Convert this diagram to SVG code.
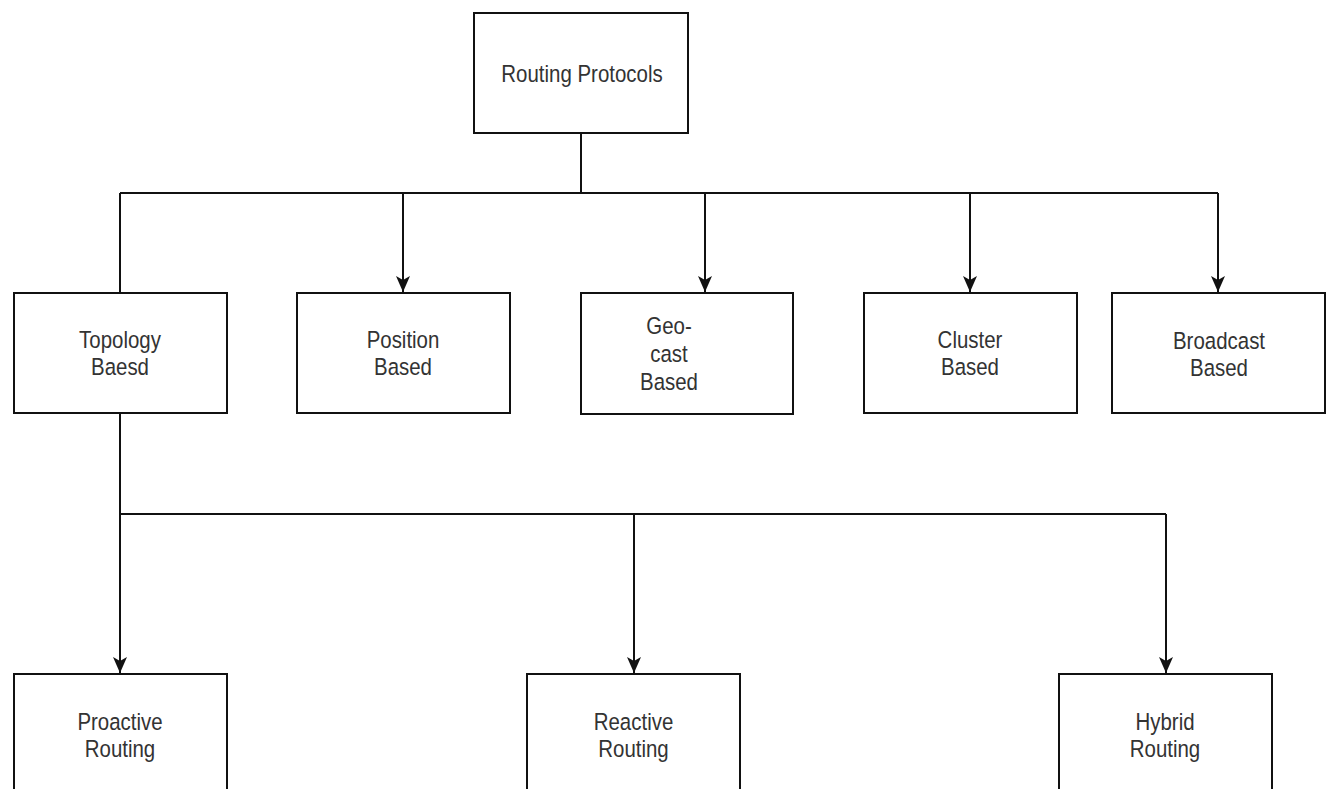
<svg xmlns="http://www.w3.org/2000/svg" width="1326" height="789" viewBox="0 0 1326 789">
  <style>
    .box { fill: #ffffff; stroke: #111111; stroke-width: 2; }
    .lbl { font-family: "Liberation Sans", Arial, sans-serif; font-size: 22px; fill: #333333; text-anchor: middle; }
    .wire { fill: none; stroke: #111111; stroke-width: 2; }
  </style>
  <defs>
    <marker id="arrow" markerWidth="18" markerHeight="16" refX="16" refY="8" orient="auto" markerUnits="userSpaceOnUse">
      <path d="M0,1 L16,8 L0,15 L4,8 Z" fill="#111111"/>
    </marker>
  </defs>
  <rect width="1326" height="789" fill="#ffffff"/>

  <!-- connectors -->
  <g id="connectors">
    <path class="wire" d="M581,133 V193"/>
    <path class="wire" d="M120,193 H1218"/>
    <path class="wire" d="M120,193 V293"/>
    <path class="wire" d="M403,193 V292" marker-end="url(#arrow)"/>
    <path class="wire" d="M705,193 V292" marker-end="url(#arrow)"/>
    <path class="wire" d="M970,193 V292" marker-end="url(#arrow)"/>
    <path class="wire" d="M1218,193 V292" marker-end="url(#arrow)"/>
    <path class="wire" d="M120,413 V673" marker-end="url(#arrow)"/>
    <path class="wire" d="M120,514 H1166"/>
    <path class="wire" d="M634,514 V673" marker-end="url(#arrow)"/>
    <path class="wire" d="M1166,514 V673" marker-end="url(#arrow)"/>
  </g>

  <g id="routing-protocols">
    <rect class="box" x="474" y="13" width="214" height="120"/>
    <text class="lbl" transform="translate(582,82) scale(0.93,1.06)">Routing Protocols</text>
  </g>

  <g id="topology-based">
    <rect class="box" x="14" y="293" width="213" height="120"/>
    <text class="lbl" transform="translate(120,347.5) scale(0.93,1.06)">Topology</text>
    <text class="lbl" transform="translate(120,375) scale(0.93,1.06)">Baesd</text>
  </g>

  <g id="position-based">
    <rect class="box" x="297" y="293" width="213" height="120"/>
    <text class="lbl" transform="translate(403,347.5) scale(0.93,1.06)">Position</text>
    <text class="lbl" transform="translate(403,375) scale(0.93,1.06)">Based</text>
  </g>

  <g id="geocast-based">
    <rect class="box" x="581" y="293" width="212" height="121"/>
    <text class="lbl" transform="translate(669,333.5) scale(0.93,1.06)">Geo-</text>
    <text class="lbl" transform="translate(669,361.5) scale(0.93,1.06)">cast</text>
    <text class="lbl" transform="translate(669,389.5) scale(0.93,1.06)">Based</text>
  </g>

  <g id="cluster-based">
    <rect class="box" x="864" y="293" width="213" height="120"/>
    <text class="lbl" transform="translate(970,347.5) scale(0.93,1.06)">Cluster</text>
    <text class="lbl" transform="translate(970,375) scale(0.93,1.06)">Based</text>
  </g>

  <g id="broadcast-based">
    <rect class="box" x="1112" y="293" width="213" height="120"/>
    <text class="lbl" transform="translate(1219,349) scale(0.93,1.06)">Broadcast</text>
    <text class="lbl" transform="translate(1219,376) scale(0.93,1.06)">Based</text>
  </g>

  <g id="proactive-routing">
    <rect class="box" x="14" y="674" width="213" height="130"/>
    <text class="lbl" transform="translate(120,729.5) scale(0.93,1.06)">Proactive</text>
    <text class="lbl" transform="translate(120,757) scale(0.93,1.06)">Routing</text>
  </g>

  <g id="reactive-routing">
    <rect class="box" x="527" y="674" width="213" height="130"/>
    <text class="lbl" transform="translate(633.5,729.5) scale(0.93,1.06)">Reactive</text>
    <text class="lbl" transform="translate(633.5,757) scale(0.93,1.06)">Routing</text>
  </g>

  <g id="hybrid-routing">
    <rect class="box" x="1059" y="674" width="213" height="130"/>
    <text class="lbl" transform="translate(1165,729.5) scale(0.93,1.06)">Hybrid</text>
    <text class="lbl" transform="translate(1165,757) scale(0.93,1.06)">Routing</text>
  </g>
</svg>
